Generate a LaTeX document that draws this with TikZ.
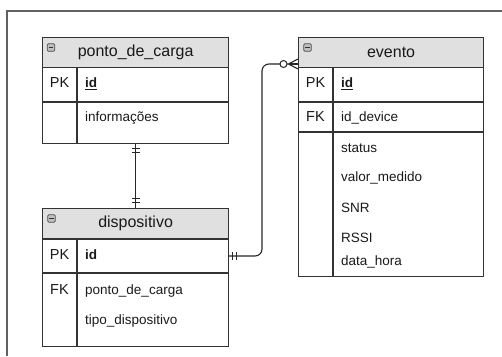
\documentclass[tikz,border=0pt]{standalone}
\usepackage{fontspec}
\setmainfont{Liberation Sans}
\begin{document}
\begin{tikzpicture}[x=1pt,y=-1pt,
  frame/.style={draw=black!62, line width=1.2pt},
  tbl/.style={draw=black!80, line width=1.2pt},
  hdr/.style={tbl, fill=black!12, minimum width=186pt, minimum height=30pt,
    anchor=north west, inner sep=0pt, text=black!90,
    font=\fontsize{16}{18}\selectfont},
  bodybox/.style={tbl, minimum width=186pt, anchor=north west, inner sep=0pt},
  fld/.style={anchor=west, inner sep=0pt, text=black!90,
    font=\fontsize{13.5}{16}\selectfont, text height=9.5pt, text depth=2.5pt},
  keyf/.style={fld, anchor=center, font=\fontsize{14.5}{16}\selectfont},
  minusbox/.style={draw=black!70, fill=black!25, minimum size=7.5pt, inner sep=0pt,
    rounded corners=1.2pt, line width=0.7pt,
    path picture={\draw[black!80, line width=0.8pt]
      ([xshift=1.6pt]path picture bounding box.west) --
      ([xshift=-1.6pt]path picture bounding box.east);}},
  conn/.style={draw=black!85, line width=1.1pt},
  tick/.style={draw=black!85, line width=1pt}
]
\useasboundingbox (0,0) rectangle (502,356);

% page frame (top and left edges)
\draw[frame] (502,11) -- (7,11) -- (7,356);

% ---------- ponto_de_carga ----------
\node[hdr] (pch) at (42,37) {ponto\_de\_carga};
\node[bodybox, minimum height=76pt] (pcb) at (42,67) {};
\draw[tbl] (42,102) -- (228,102);
\draw[tbl] (77,67) -- (77,143);
\node[minusbox] (pcm) at (51,47.5) {};
\node[keyf] (pck1) at (59.5,84) {PK};
\node[fld] (pcf1) at (85,84) {\textbf{\underline{id}}};
\node[fld] (pcf2) at (85,118) {informações};

% ---------- dispositivo ----------
\node[hdr] (dvh) at (42,208) {dispositivo};
\node[bodybox, minimum height=107pt] (dvb) at (42,239) {};
\draw[tbl] (42,273) -- (228,273);
\draw[tbl] (77,239) -- (77,346);
\node[minusbox] (dvm) at (51.5,218.5) {};
\node[keyf] (dvk1) at (59.5,256) {PK};
\node[fld] (dvf1) at (85,256) {\textbf{id}};
\node[keyf] (dvk2) at (59.5,291) {FK};
\node[fld] (dvf2) at (85,291) {ponto\_de\_carga};
\node[fld] (dvf3) at (85,321) {tipo\_dispositivo};

% ---------- evento ----------
\node[hdr, minimum width=185pt] (evh) at (298,37) {evento};
\node[bodybox, minimum width=185pt, minimum height=209pt] (evb) at (298,67) {};
\draw[tbl] (298,102) -- (483,102);
\draw[tbl] (298,132) -- (483,132);
\draw[tbl] (333,67) -- (333,276);
\node[minusbox] (evm) at (307.5,47.5) {};
\node[keyf] (evk1) at (315.5,84) {PK};
\node[fld] (evf1) at (341,84) {\textbf{\underline{id}}};
\node[keyf] (evk2) at (315.5,118) {FK};
\node[fld] (evf2) at (341,118) {id\_device};
\node[fld] (evf3) at (341,149) {status};
\node[fld] (evf4) at (341,178) {valor\_medido};
\node[fld] (evf5) at (341,209) {SNR};
\node[fld] (evf6) at (341,239) {RSSI};
\node[fld] (evf7) at (341,262) {data\_hora};

% ---------- relationships ----------
% ponto_de_carga (one) -- dispositivo (one)
\draw[conn] (pcb.south) -- (dvh.north);
\draw[tick] ([xshift=-4pt,yshift=-4pt]pcb.south) -- ([xshift=4pt,yshift=-4pt]pcb.south);
\draw[tick] ([xshift=-4pt,yshift=-8pt]pcb.south) -- ([xshift=4pt,yshift=-8pt]pcb.south);
\draw[tick] ([xshift=-4pt,yshift=10pt]dvh.north) -- ([xshift=4pt,yshift=10pt]dvh.north);
\draw[tick] ([xshift=-4pt,yshift=6pt]dvh.north) -- ([xshift=4pt,yshift=6pt]dvh.north);

% dispositivo (one) -- evento (zero or many)
\coordinate (dvout) at (228,256);
\coordinate (bend) at (262,160);
\coordinate (evin) at (298,64);
\coordinate (crow) at (288.5,64);
\draw[conn, rounded corners=7pt] (dvout) -- (dvout -| bend) -- (bend |- evin) -- (crow);
\draw[tick] ([xshift=4pt,yshift=-4pt]dvout) -- ([xshift=4pt,yshift=4pt]dvout);
\draw[tick] ([xshift=8pt,yshift=-4pt]dvout) -- ([xshift=8pt,yshift=4pt]dvout);
\draw[conn] (crow) -- ([yshift=5pt]evin);
\draw[conn] (crow) -- (evin);
\draw[conn] (crow) -- ([yshift=-5pt]evin);
\node[circle, draw=black!85, fill=white, line width=1pt, minimum size=7pt, inner sep=0pt]
  (zero) at (283.5,64) {};
\end{tikzpicture}
\end{document}
